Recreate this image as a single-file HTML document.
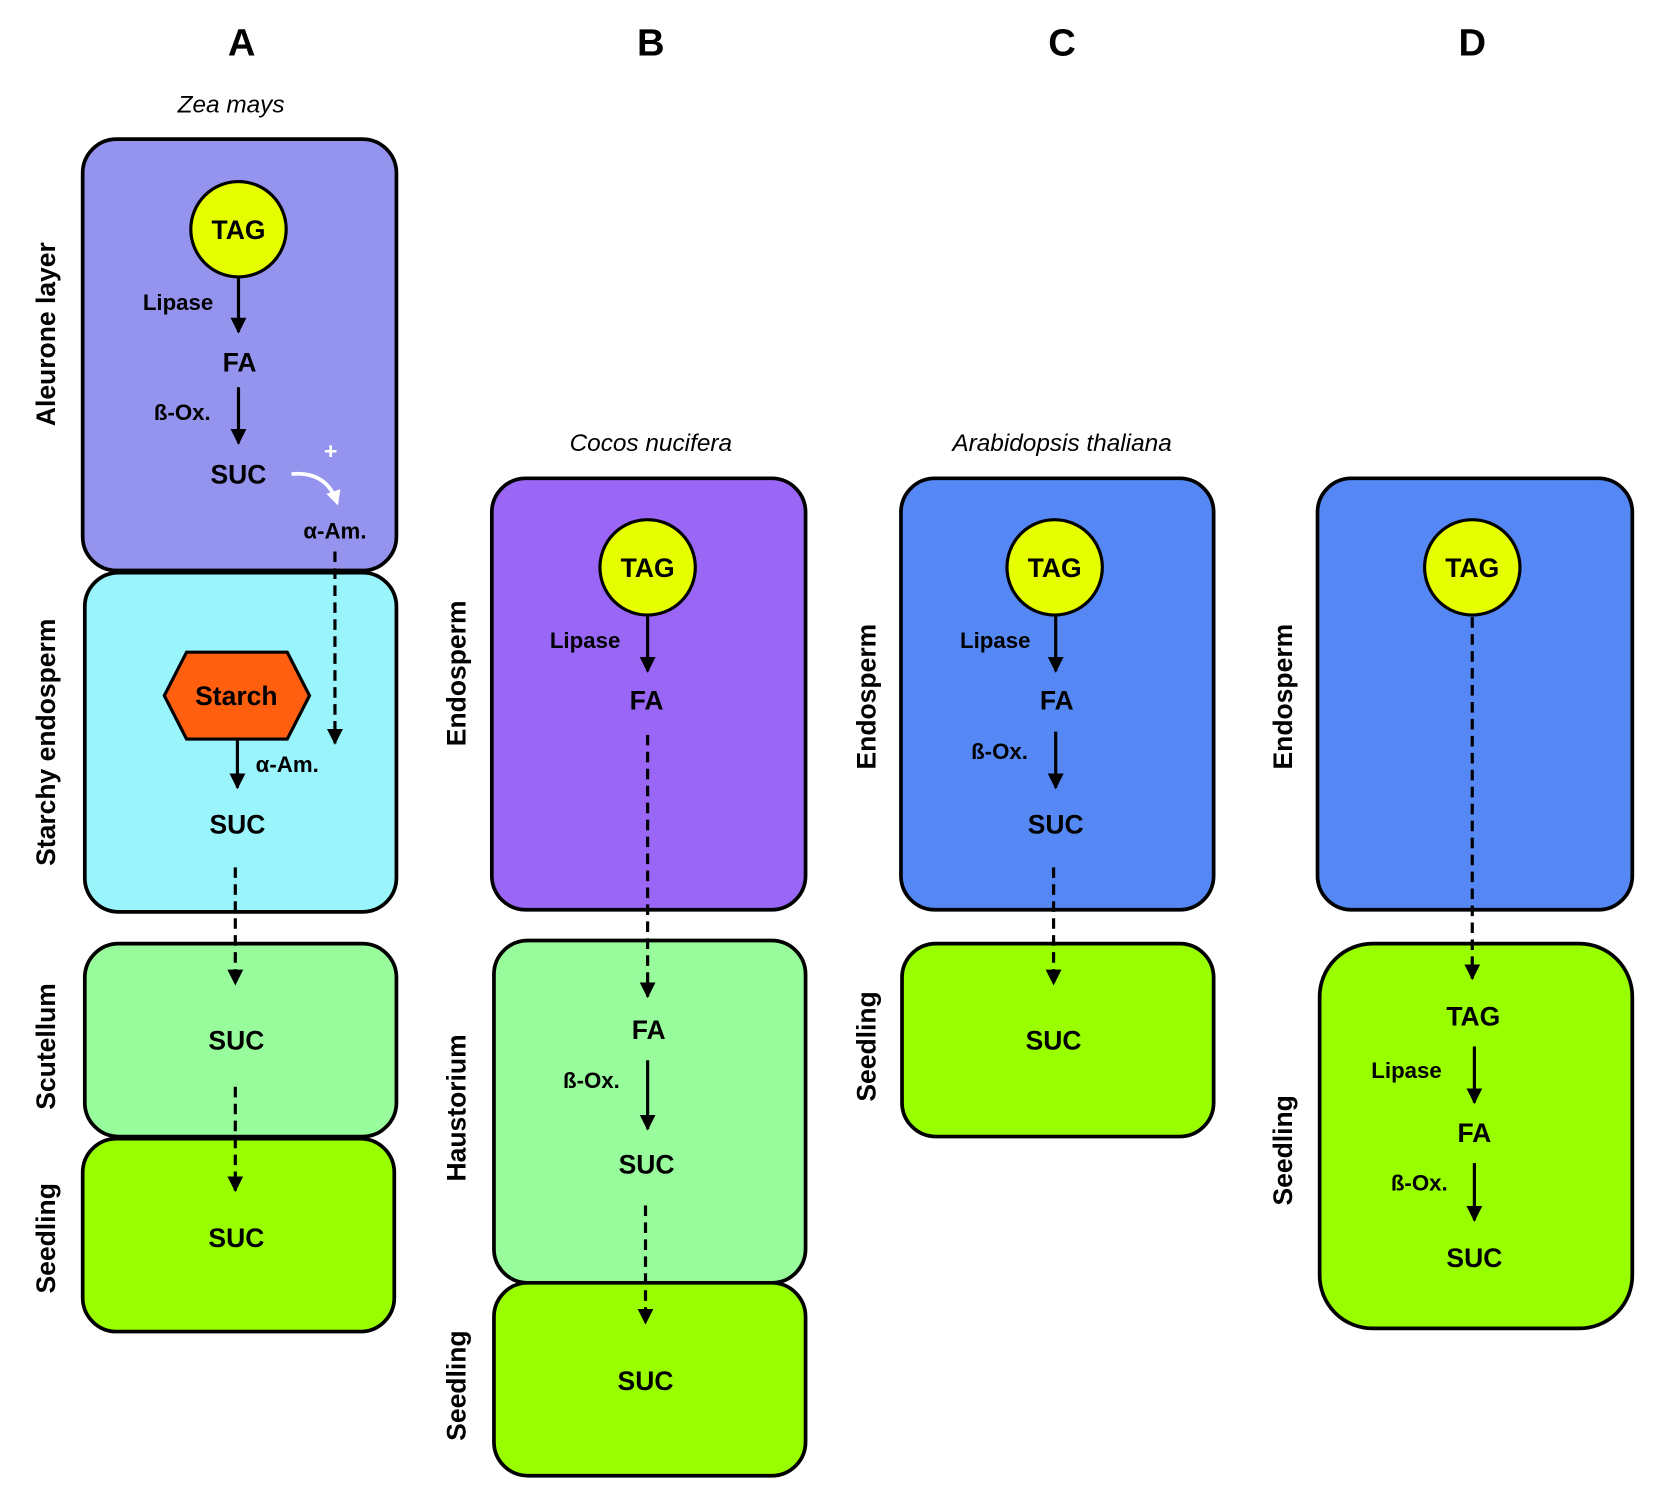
<!DOCTYPE html>
<html><head><meta charset="utf-8"><style>
html,body{margin:0;padding:0;background:#fff;}
svg{display:block;}
text{font-family:"Liberation Sans",Arial,sans-serif;}
.t{font-weight:bold;font-size:25px;text-anchor:middle;}
.s{font-weight:bold;font-size:21px;text-anchor:middle;}
.side{font-size:25px;font-weight:bold;text-anchor:middle;}
.h{font-weight:bold;font-size:36px;text-anchor:middle;}
.sp{font-style:italic;font-size:23px;text-anchor:middle;}
.box{stroke:#000;stroke-width:3.5;}
.ar{stroke:#000;stroke-width:3;fill:none;}
.da{stroke:#000;stroke-width:3;fill:none;stroke-dasharray:10,6;}
</style></head><body>
<svg width="1662" height="1511" viewBox="0 0 1568 1425" xmlns="http://www.w3.org/2000/svg">
<defs>
<marker id="ah" viewBox="0 0 10 10" refX="9" refY="5" markerWidth="5" markerHeight="5" orient="auto" markerUnits="strokeWidth"><path d="M0,0 L10,5 L0,10 z" fill="#000"/></marker>
<marker id="aw" viewBox="0 0 10 10" refX="8" refY="5" markerWidth="4" markerHeight="4" orient="auto" markerUnits="strokeWidth"><path d="M0,0 L10,5 L0,10 z" fill="#fff"/></marker>
</defs>
<text class="h" x="228" y="52">A</text>
<text class="h" x="614" y="52">B</text>
<text class="h" x="1002" y="52">C</text>
<text class="h" x="1389" y="52">D</text>
<text class="sp" x="218" y="106">Zea mays</text>
<text class="sp" x="614" y="425">Cocos nucifera</text>
<text class="sp" x="1002" y="425">Arabidopsis thaliana</text>

<!-- Column A -->
<rect class="box" x="78" y="131" width="296" height="407" rx="32" fill="#9494ef"/>
<rect class="box" x="80" y="540" width="294" height="320" rx="32" fill="#99f4fc"/>
<rect class="box" x="80" y="890" width="294" height="182" rx="32" fill="#99fc9c"/>
<rect class="box" x="78" y="1074" width="294" height="182" rx="32" fill="#99ff00"/>
<circle cx="225" cy="216" r="45" fill="#e5ff00" stroke="#000" stroke-width="3"/>
<text class="t" x="225" y="225">TAG</text>
<text class="s" x="168" y="292">Lipase</text>
<line class="ar" x1="225" y1="262" x2="225" y2="313" marker-end="url(#ah)"/>
<text class="t" x="226" y="350">FA</text>
<text class="s" x="172" y="396">ß-Ox.</text>
<line class="ar" x1="225" y1="365" x2="225" y2="418" marker-end="url(#ah)"/>
<text class="t" x="225" y="456">SUC</text>
<path d="M275,447 Q308,444 318,474" stroke="#fff" stroke-width="3.5" fill="none" marker-end="url(#aw)"/>
<text x="312" y="433" fill="#fff" font-weight="bold" font-size="22" text-anchor="middle">+</text>
<text class="s" x="316" y="508">α-Am.</text>
<line class="da" x1="316" y1="520" x2="316" y2="701" marker-end="url(#ah)"/>
<polygon points="176,615 271,615 292,656 271,697 176,697 155,656" fill="#ff5f0f" stroke="#000" stroke-width="3"/>
<text class="t" x="223" y="665">Starch</text>
<text class="s" x="271" y="728">α-Am.</text>
<line class="ar" x1="224" y1="697" x2="224" y2="743" marker-end="url(#ah)"/>
<text class="t" x="224" y="786">SUC</text>
<line class="da" x1="222" y1="818" x2="222" y2="928" marker-end="url(#ah)"/>
<text class="t" x="223" y="990">SUC</text>
<line class="da" x1="222" y1="1025" x2="222" y2="1123" marker-end="url(#ah)"/>
<text class="t" x="223" y="1176">SUC</text>
<text class="side" transform="translate(52,315) rotate(-90)">Aleurone layer</text>
<text class="side" transform="translate(52,700) rotate(-90)">Starchy endosperm</text>
<text class="side" transform="translate(52,987) rotate(-90)">Scutellum</text>
<text class="side" transform="translate(52,1168) rotate(-90)">Seedling</text>

<!-- Column B -->
<rect class="box" x="464" y="451" width="296" height="407" rx="32" fill="#9966f5"/>
<rect class="box" x="466" y="887" width="294" height="323" rx="32" fill="#99fc9c"/>
<rect class="box" x="466" y="1210" width="294" height="182" rx="32" fill="#99ff00"/>
<circle cx="611" cy="535" r="45" fill="#e5ff00" stroke="#000" stroke-width="3"/>
<text class="t" x="611" y="544">TAG</text>
<text class="s" x="552" y="611">Lipase</text>
<line class="ar" x1="611" y1="581" x2="611" y2="633" marker-end="url(#ah)"/>
<text class="t" x="610" y="669">FA</text>
<line class="da" x1="611" y1="693" x2="611" y2="940" marker-end="url(#ah)"/>
<text class="t" x="612" y="980">FA</text>
<text class="s" x="558" y="1026">ß-Ox.</text>
<line class="ar" x1="611" y1="1000" x2="611" y2="1065" marker-end="url(#ah)"/>
<text class="t" x="610" y="1107">SUC</text>
<line class="da" x1="609" y1="1137" x2="609" y2="1248" marker-end="url(#ah)"/>
<text class="t" x="609" y="1311">SUC</text>
<text class="side" transform="translate(439,635) rotate(-90)">Endosperm</text>
<text class="side" transform="translate(439,1045) rotate(-90)">Haustorium</text>
<text class="side" transform="translate(439,1307) rotate(-90)">Seedling</text>

<!-- Column C -->
<rect class="box" x="850" y="451" width="295" height="407" rx="32" fill="#5588f4"/>
<rect class="box" x="851" y="890" width="294" height="182" rx="32" fill="#99ff00"/>
<circle cx="995" cy="535" r="45" fill="#e5ff00" stroke="#000" stroke-width="3"/>
<text class="t" x="995" y="544">TAG</text>
<text class="s" x="939" y="611">Lipase</text>
<line class="ar" x1="996" y1="581" x2="996" y2="633" marker-end="url(#ah)"/>
<text class="t" x="997" y="669">FA</text>
<text class="s" x="943" y="716">ß-Ox.</text>
<line class="ar" x1="996" y1="690" x2="996" y2="743" marker-end="url(#ah)"/>
<text class="t" x="996" y="786">SUC</text>
<line class="da" x1="994" y1="818" x2="994" y2="928" marker-end="url(#ah)"/>
<text class="t" x="994" y="990">SUC</text>
<text class="side" transform="translate(826,657) rotate(-90)">Endosperm</text>
<text class="side" transform="translate(826,987) rotate(-90)">Seedling</text>

<!-- Column D -->
<rect class="box" x="1243" y="451" width="297" height="407" rx="32" fill="#5588f4"/>
<rect class="box" x="1245" y="890" width="295" height="363" rx="50" fill="#99ff00"/>
<circle cx="1389" cy="535" r="45" fill="#e5ff00" stroke="#000" stroke-width="3"/>
<text class="t" x="1389" y="544">TAG</text>
<line class="da" x1="1389" y1="582" x2="1389" y2="923" marker-end="url(#ah)"/>
<text class="t" x="1390" y="967">TAG</text>
<text class="s" x="1327" y="1017">Lipase</text>
<line class="ar" x1="1391" y1="987" x2="1391" y2="1040" marker-end="url(#ah)"/>
<text class="t" x="1391" y="1077">FA</text>
<text class="s" x="1339" y="1123">ß-Ox.</text>
<line class="ar" x1="1391" y1="1097" x2="1391" y2="1151" marker-end="url(#ah)"/>
<text class="t" x="1391" y="1195">SUC</text>
<text class="side" transform="translate(1219,657) rotate(-90)">Endosperm</text>
<text class="side" transform="translate(1219,1085) rotate(-90)">Seedling</text>
</svg>
</body></html>
